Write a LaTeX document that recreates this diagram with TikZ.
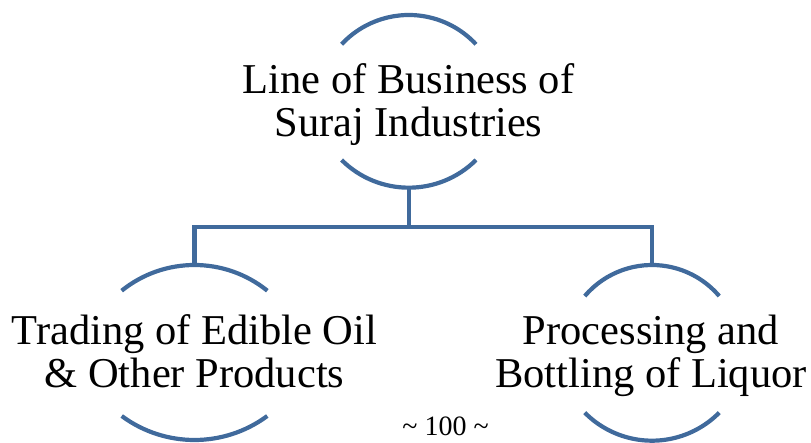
\documentclass[tikz,border=0pt]{standalone}
\usepackage{fontspec}
\setmainfont{Liberation Serif}
\definecolor{arcblue}{RGB}{64,106,156}
\begin{document}
\begin{tikzpicture}[x=1pt,y=1pt,
  arcline/.style={draw=arcblue,line width=4.2pt},
  conn/.style={draw=arcblue,line width=4.2pt,line join=miter},
  label/.style={align=center,anchor=base,inner sep=0pt,font=\fontsize{42.5}{43.5}\selectfont},
  pagenum/.style={anchor=base,inner sep=0pt,font=\fontsize{28}{30}\selectfont}]
\useasboundingbox (0,0) rectangle (811,443);
% centres of the arcs
\coordinate (topTc) at (408.8,336.3);
\coordinate (topBc) at (408.8,350.7);
\coordinate (leftTc) at (194.5,62);
\coordinate (leftBc) at (194.5,125.4);
\coordinate (rightTc) at (652,89.7);
\coordinate (rightBc) at (652,96.9);
% apex points used by the connectors
\coordinate (tb) at (408.8,255.3);
\coordinate (lt) at (194.5,178);
\coordinate (rt) at (652,178);
\coordinate (j) at (408.8,216);
% arcs
\draw[arcline] (topTc) ++(137.1:91.7) arc[start angle=137.1,end angle=42.9,radius=91.7];
\draw[arcline] (topBc) ++(225.2:95.4) arc[start angle=225.2,end angle=314.8,radius=95.4];
\draw[arcline] (leftTc) ++(128.9:116) arc[start angle=128.9,end angle=51.1,radius=116];
\draw[arcline] (leftBc) ++(233.5:122.4) arc[start angle=233.5,end angle=306.5,radius=122.4];
\draw[arcline] (rightTc) ++(139.6:88.3) arc[start angle=139.6,end angle=40.4,radius=88.3];
\draw[arcline] (rightBc) ++(224.7:94.6) arc[start angle=224.7,end angle=315.3,radius=94.6];
% texts
\node[label] (top) at (408.5,306.3) {Line of Business of\\Suraj Industries};
\node[label] (left) at (194.5,55) {Trading of Edible Oil\\\& Other Products};
\node[label] (right) at (651,55) {Processing and\\Bottling of Liquor};
\node[pagenum] (page) at (445.5,7) {\char`\~{} 100 \char`\~};
% connectors
\draw[conn] (tb) -- (j);
\draw[conn] (lt) |- (j) -| (rt);
\end{tikzpicture}
\end{document}
